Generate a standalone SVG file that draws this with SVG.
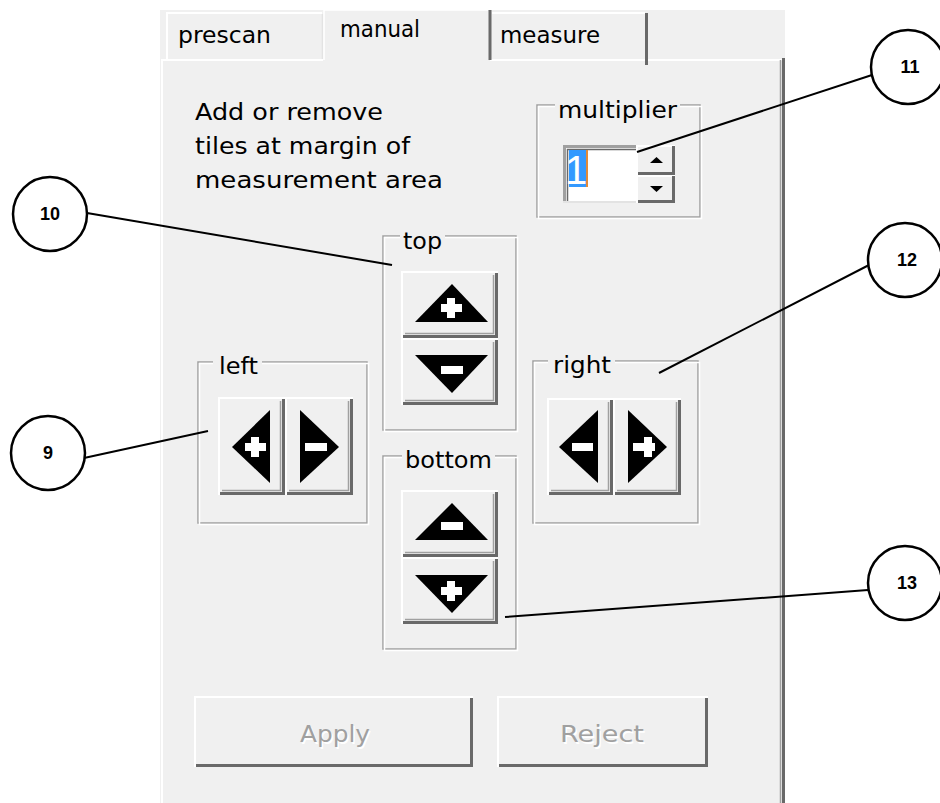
<svg xmlns="http://www.w3.org/2000/svg" width="940" height="803" viewBox="0 0 940 803">
  <style>
    .face { fill: #f0f0f0; }
    .hi { fill: none; stroke: #ffffff; stroke-width: 2; }
    .sh { fill: none; stroke: #696969; stroke-width: 3; }
    .sh2 { fill: none; stroke: #a0a0a0; stroke-width: 1.5; }
    .etch { fill: none; stroke: #a0a0a0; stroke-width: 1.5; }
    .etchw { fill: none; stroke: #ffffff; stroke-width: 1.5; }
    .gap { fill: #f0f0f0; }
    .txt { font-family: "DejaVu Sans", "Liberation Sans", sans-serif; font-size: 23px; fill: #000000; }
    .dis { font-family: "DejaVu Sans", "Liberation Sans", sans-serif; font-size: 23px; fill: #a0a0a0; }
    .disw { font-family: "DejaVu Sans", "Liberation Sans", sans-serif; font-size: 23px; fill: #ffffff; }
    .glyph { fill: #000000; }
    .mark { fill: #ffffff; }
    .lead { stroke: #000000; stroke-width: 2; fill: none; }
    .callout { fill: #ffffff; stroke: #000000; stroke-width: 2.5; }
    .num { font-family: "Liberation Sans", Arial, sans-serif; font-size: 18px; font-weight: bold; fill: #000000; text-anchor: middle; }
  </style>

  <rect width="940" height="803" fill="#ffffff"/>

  <!-- dialog page background -->
  <g id="panel">
    <rect x="160" y="10" width="625" height="793" fill="#f0f0f0"/>
    <!-- page frame -->
    <path d="M162,803 V60 H323" fill="none" stroke="#ffffff" stroke-width="2"/>
    <path d="M490,60 H782" fill="none" stroke="#ffffff" stroke-width="2"/>
    <path d="M783.5,58 V803" fill="none" stroke="#696969" stroke-width="3"/>
    <path d="M780.5,60 V803" fill="none" stroke="#a0a0a0" stroke-width="1.5"/>
  </g>

  <!-- tab strip -->
  <g id="tabs">
    <g id="tab-prescan">
      <path d="M167,60 V13 H322" fill="none" stroke="#ffffff" stroke-width="2"/>
      <path d="M322.5,14 V59" fill="none" stroke="#e3e3e3" stroke-width="1.5"/>
      <text class="txt" x="178" y="43" textLength="93" lengthAdjust="spacingAndGlyphs">prescan</text>
    </g>
    <g id="tab-manual">
      <path d="M324,60 V10 H488" fill="none" stroke="#ffffff" stroke-width="1.5"/>
      <path d="M490,10 V60" fill="none" stroke="#696969" stroke-width="3"/>
      <text class="txt" x="340" y="37" textLength="80" lengthAdjust="spacingAndGlyphs">manual</text>
    </g>
    <g id="tab-measure">
      <path d="M492,13 H645" fill="none" stroke="#ffffff" stroke-width="2"/>
      <path d="M646.5,13 V65" fill="none" stroke="#696969" stroke-width="3"/>
      <text class="txt" x="500" y="43" textLength="100" lengthAdjust="spacingAndGlyphs">measure</text>
    </g>
  </g>

  <!-- instruction text -->
  <g id="hint">
    <text class="txt" x="195" y="120" textLength="188" lengthAdjust="spacingAndGlyphs">Add or remove</text>
    <text class="txt" x="195" y="154" textLength="215" lengthAdjust="spacingAndGlyphs">tiles at margin of</text>
    <text class="txt" x="195" y="188" textLength="248" lengthAdjust="spacingAndGlyphs">measurement area</text>
  </g>

  <!-- multiplier spin box -->
  <g id="multiplier">
    <rect class="etch" x="537" y="105" width="163" height="112"/>
    <rect class="etchw" x="538.5" y="106.5" width="163" height="112"/>
    <rect class="gap" x="555" y="100" width="125" height="10"/>
    <text class="txt" x="558" y="118" textLength="119" lengthAdjust="spacingAndGlyphs">multiplier</text>
    <!-- edit field -->
    <rect x="563" y="145" width="74" height="58" fill="#ffffff"/>
    <path d="M564.5,203 V146.5 H637" fill="none" stroke="#a0a0a0" stroke-width="3"/>
    <path d="M567.5,201 V149.5 H637" fill="none" stroke="#696969" stroke-width="1.5"/>
    <path d="M563,202 H637" fill="none" stroke="#e3e3e3" stroke-width="2"/>
    <rect x="569" y="150" width="19" height="37" fill="#3399ff"/>
    <rect x="586" y="150" width="2" height="37" fill="#e08a3a"/>
    <text x="565" y="184" font-family="Liberation Sans, Arial, sans-serif" font-size="40" fill="#ffffff">1</text>
    <!-- spin buttons -->
    <rect class="face" x="637" y="145" width="38" height="30"/>
    <path class="hi" d="M637,175 V146 H675"/>
    <path class="sh" d="M638,173.5 H673.5 V146"/>
    <polygon class="glyph" points="650,163 663,163 656.5,157"/>
    <rect class="face" x="637" y="175" width="38" height="28"/>
    <path class="hi" d="M637,203 V176 H675"/>
    <path class="sh" d="M638,201.5 H673.5 V176"/>
    <polygon class="glyph" points="650,186 663,186 656.5,192"/>
  </g>

  <!-- top margin -->
  <g id="top">
    <rect class="etch" x="383" y="236" width="133" height="194"/>
    <rect class="etchw" x="384.5" y="237.5" width="133" height="194"/>
    <rect class="gap" x="400" y="231" width="45" height="10"/>
    <text class="txt" x="403" y="249" textLength="39" lengthAdjust="spacingAndGlyphs">top</text>
    <g id="top-plus">
      <rect class="face" x="402" y="272" width="96" height="66"/>
      <path class="hi" d="M402,338 V272 H498"/>
      <path class="sh" d="M403,336.5 H496.5 V273"/>
      <path class="sh2" d="M405,333.5 H493.5 V275"/>
      <polygon class="glyph" points="452,284 415,322 488,322"/>
      <rect class="mark" x="441" y="304" width="21" height="8"/>
      <rect class="mark" x="447" y="298" width="8" height="20"/>
    </g>
    <g id="top-minus">
      <rect class="face" x="402" y="339" width="96" height="66"/>
      <path class="hi" d="M402,405 V339 H498"/>
      <path class="sh" d="M403,403.5 H496.5 V340"/>
      <path class="sh2" d="M405,400.5 H493.5 V342"/>
      <polygon class="glyph" points="415,355 488,355 452,393"/>
      <rect class="mark" x="441" y="366" width="22" height="8"/>
    </g>
  </g>

  <!-- left margin -->
  <g id="left">
    <rect class="etch" x="198" y="362" width="169" height="161"/>
    <rect class="etchw" x="199.5" y="363.5" width="169" height="161"/>
    <rect class="gap" x="213" y="357" width="49" height="10"/>
    <text class="txt" x="219" y="374" textLength="39" lengthAdjust="spacingAndGlyphs">left</text>
    <g id="left-plus">
      <rect class="face" x="219" y="398" width="66" height="97"/>
      <path class="hi" d="M219,495 V398 H285"/>
      <path class="sh" d="M220,493.5 H283.5 V399"/>
      <path class="sh2" d="M222,490.5 H280.5 V401"/>
      <polygon class="glyph" points="232,447 270,410 270,483"/>
      <rect class="mark" x="245" y="443" width="21" height="8"/>
      <rect class="mark" x="251" y="437" width="8" height="20"/>
    </g>
    <g id="left-minus">
      <rect class="face" x="286" y="398" width="67" height="97"/>
      <path class="hi" d="M286,495 V398 H353"/>
      <path class="sh" d="M287,493.5 H351.5 V399"/>
      <path class="sh2" d="M289,490.5 H348.5 V401"/>
      <polygon class="glyph" points="300,410 300,483 339,447"/>
      <rect class="mark" x="305" y="443" width="22" height="8"/>
    </g>
  </g>

  <!-- right margin -->
  <g id="right">
    <rect class="etch" x="533" y="361" width="165" height="162"/>
    <rect class="etchw" x="534.5" y="362.5" width="165" height="162"/>
    <rect class="gap" x="548" y="356" width="67" height="10"/>
    <text class="txt" x="553" y="373" textLength="58" lengthAdjust="spacingAndGlyphs">right</text>
    <g id="right-minus">
      <rect class="face" x="548" y="399" width="65" height="96"/>
      <path class="hi" d="M548,495 V399 H613"/>
      <path class="sh" d="M549,493.5 H611.5 V400"/>
      <path class="sh2" d="M551,490.5 H608.5 V402"/>
      <polygon class="glyph" points="559,447 598,410 598,483"/>
      <rect class="mark" x="572" y="443" width="21" height="8"/>
    </g>
    <g id="right-plus">
      <rect class="face" x="614" y="399" width="67" height="96"/>
      <path class="hi" d="M614,495 V399 H681"/>
      <path class="sh" d="M615,493.5 H679.5 V400"/>
      <path class="sh2" d="M617,490.5 H676.5 V402"/>
      <polygon class="glyph" points="628,410 628,483 667,447"/>
      <rect class="mark" x="633" y="443" width="22" height="8"/>
      <rect class="mark" x="644" y="437" width="8" height="20"/>
    </g>
  </g>

  <!-- bottom margin -->
  <g id="bottom">
    <rect class="etch" x="383" y="456" width="133" height="193"/>
    <rect class="etchw" x="384.5" y="457.5" width="133" height="193"/>
    <rect class="gap" x="402" y="451" width="93" height="10"/>
    <text class="txt" x="405" y="468" textLength="87" lengthAdjust="spacingAndGlyphs">bottom</text>
    <g id="bottom-minus">
      <rect class="face" x="402" y="491" width="96" height="66"/>
      <path class="hi" d="M402,557 V491 H498"/>
      <path class="sh" d="M403,555.5 H496.5 V492"/>
      <path class="sh2" d="M405,552.5 H493.5 V494"/>
      <polygon class="glyph" points="452,503 415,540 488,540"/>
      <rect class="mark" x="441" y="522" width="22" height="8"/>
    </g>
    <g id="bottom-plus">
      <rect class="face" x="402" y="558" width="96" height="66"/>
      <path class="hi" d="M402,624 V558 H498"/>
      <path class="sh" d="M403,622.5 H496.5 V559"/>
      <path class="sh2" d="M405,619.5 H493.5 V561"/>
      <polygon class="glyph" points="415,575 488,575 452,613"/>
      <rect class="mark" x="441" y="587" width="21" height="8"/>
      <rect class="mark" x="447" y="581" width="8" height="20"/>
    </g>
  </g>

  <!-- disabled command buttons -->
  <g id="apply">
    <rect class="face" x="195" y="697" width="278" height="70"/>
    <path class="hi" d="M195,767 V697 H473"/>
    <path class="sh" d="M196,765.5 H471.5 V698"/>
    <text class="disw" x="301.5" y="743.5" textLength="70" lengthAdjust="spacingAndGlyphs">Apply</text>
    <text class="dis" x="300" y="742" textLength="70" lengthAdjust="spacingAndGlyphs">Apply</text>
  </g>
  <g id="reject">
    <rect class="face" x="498" y="697" width="210" height="70"/>
    <path class="hi" d="M498,767 V697 H708"/>
    <path class="sh" d="M499,765.5 H706.5 V698"/>
    <text class="disw" x="561.5" y="743.5" textLength="84" lengthAdjust="spacingAndGlyphs">Reject</text>
    <text class="dis" x="560" y="742" textLength="84" lengthAdjust="spacingAndGlyphs">Reject</text>
  </g>

  <!-- callout leaders -->
  <g id="leaders">
    <line class="lead" x1="87" y1="213" x2="392" y2="265"/>
    <line class="lead" x1="84" y1="458" x2="208" y2="431"/>
    <line class="lead" x1="637" y1="152" x2="872" y2="75"/>
    <line class="lead" x1="659" y1="373" x2="869" y2="265"/>
    <line class="lead" x1="505" y1="617" x2="868" y2="590"/>
  </g>

  <!-- numbered callouts -->
  <g id="callout-9">
    <circle class="callout" cx="48" cy="453" r="37"/>
    <text class="num" x="48" y="459">9</text>
  </g>
  <g id="callout-10">
    <circle class="callout" cx="50" cy="214" r="37"/>
    <text class="num" x="50" y="220">10</text>
  </g>
  <g id="callout-11">
    <circle class="callout" cx="908" cy="67" r="37"/>
    <text class="num" x="910" y="73">11</text>
  </g>
  <g id="callout-12">
    <circle class="callout" cx="905" cy="260" r="37"/>
    <text class="num" x="907" y="266">12</text>
  </g>
  <g id="callout-13">
    <circle class="callout" cx="905" cy="583" r="37"/>
    <text class="num" x="907" y="589">13</text>
  </g>
</svg>
